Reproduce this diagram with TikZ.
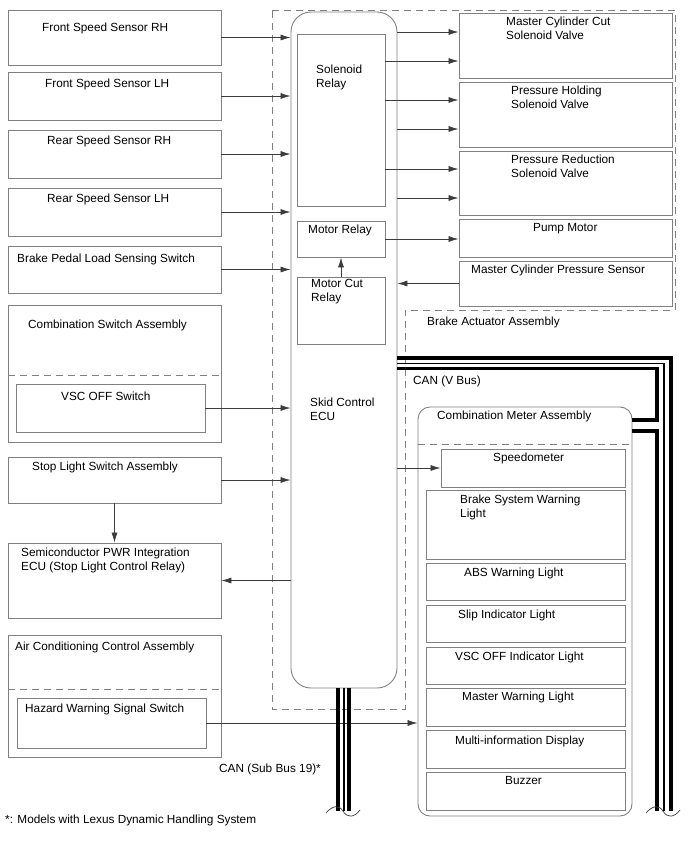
\documentclass[tikz,border=0pt]{standalone}
\usepackage{fontspec}
\setmainfont{Liberation Sans}
\usetikzlibrary{arrows.meta,positioning,fit,calc}
\definecolor{boxLine}{RGB}{128,128,128}
\definecolor{wireLine}{RGB}{60,60,60}
\tikzset{
    every node/.append style={align=left},
    box/.style={rectangle,draw=boxLine,line width=0.9pt,inner sep=0pt},
    txt/.style={font=\fontsize{11.8}{14}\selectfont,inner sep=0pt,anchor=north west},
    boundary/.style={draw=boxLine,line width=0.9pt,dash pattern=on 7pt off 5pt},
    divider/.style={draw=boxLine,line width=0.9pt,dash pattern=on 7pt off 5pt},
    arr/.style={-{Latex[length=10pt,width=6pt]},draw=wireLine,line width=0.7pt},
    busthick/.style={line width=3.4pt,black},
    busthin/.style={line width=1.1pt,black},
    brk/.style={draw=wireLine,line width=0.7pt}
}
\begin{document}
\begin{tikzpicture}[x=1pt,y=-1pt]
    \useasboundingbox (0,0) rectangle (688,852);

    \draw[boundary] (272,10) -- (675,10) -- (675,310) -- (405,310) -- (405,709) -- (272,709) -- cycle;
    \node[txt] (bact-lbl) at (427,317) {Brake Actuator Assembly};

    \node[box,fit={(8,10) (221,65)}] (fsrh) {};
    \node[txt] (fsrh-lbl) at (42,23) {Front Speed Sensor RH};
    \node[box,fit={(8,72) (221,120)}] (fslh) {};
    \node[txt] (fslh-lbl) at (45,79) {Front Speed Sensor LH};
    \node[box,fit={(8,130) (221,178)}] (rsrh) {};
    \node[txt] (rsrh-lbl) at (47,136) {Rear Speed Sensor RH};
    \node[box,fit={(8,188) (221,236)}] (rslh) {};
    \node[txt] (rslh-lbl) at (47,194) {Rear Speed Sensor LH};
    \node[box,fit={(8,246) (221,293)}] (bpls) {};
    \node[txt] (bpls-lbl) at (17,254) {Brake Pedal Load Sensing Switch};

    \node[box,fit={(8,305) (221,442)}] (combsw) {};
    \draw[divider] (combsw.west |- 0,375) -- (combsw.east |- 0,375);
    \node[txt] (combsw-lbl) at (28,320) {Combination Switch Assembly};
    \node[box,fit={(16,384) (205,432)}] (vscsw) {};
    \node[txt] (vscsw-lbl) at (61,392) {VSC OFF Switch};

    \node[box,fit={(8,457) (221,503)}] (stopsw) {};
    \node[txt] (stopsw-lbl) at (32,462) {Stop Light Switch Assembly};
    \node[box,fit={(8,543) (221,618)}] (semi) {};
    \node[txt] (semi-lbl) at (21,548) {Semiconductor PWR Integration\\ECU (Stop Light Control Relay)};

    \node[box,fit={(8,635) (221,757)}] (acca) {};
    \draw[divider] (acca.west |- 0,689) -- (acca.east |- 0,689);
    \node[txt] (acca-lbl) at (15,642) {Air Conditioning Control Assembly};
    \node[box,fit={(17,698) (206,748)}] (hazsw) {};
    \node[txt] (hazsw-lbl) at (25,704) {Hazard Warning Signal Switch};

    \node[box,rounded corners=20pt,fit={(291,12) (397,688)}] (ecu) {};
    \node[txt] (ecu-lbl) at (310,398) {Skid Control\\ECU};
    \node[box,fit={(297,34) (385,206)}] (solrly) {};
    \node[txt] (solrly-lbl) at (316,65) {Solenoid\\Relay};
    \node[box,fit={(297,221) (385,257)}] (mrly) {};
    \node[txt] (mrly-lbl) at (308,225) {Motor Relay};
    \node[box,fit={(297,277) (385,344)}] (mcut) {};
    \node[txt] (mcut-lbl) at (311,279) {Motor Cut\\Relay};

    \node[box,fit={(459,13) (672,78)}] (mccv) {};
    \node[txt] (mccv-lbl) at (506,17) {Master Cylinder Cut\\Solenoid Valve};
    \node[box,fit={(459,82) (672,147)}] (phsv) {};
    \node[txt] (phsv-lbl) at (511,86) {Pressure Holding\\Solenoid Valve};
    \node[box,fit={(459,151) (672,215)}] (prsv) {};
    \node[txt] (prsv-lbl) at (511,155) {Pressure Reduction\\Solenoid Valve};
    \node[box,fit={(459,219) (672,257)}] (pump) {};
    \node[txt] (pump-lbl) at (533,223) {Pump Motor};
    \node[box,fit={(459,261) (672,306)}] (mcps) {};
    \node[txt] (mcps-lbl) at (471,265) {Master Cylinder Pressure Sensor};

    \node[box,rounded corners=12pt,fit={(418,407) (632,816)}] (meter) {};
    \draw[divider] (meter.west |- 0,444) -- (meter.east |- 0,444);
    \node[txt] (meter-lbl) at (437,411) {Combination Meter Assembly};
    \node[box,fit={(441,449) (625,487)}] (speedo) {};
    \node[txt] (speedo-lbl) at (493,453) {Speedometer};
    \node[box,fit={(426,490) (625,559)}] (bswl) {};
    \node[txt] (bswl-lbl) at (460,495) {Brake System Warning\\Light};
    \node[box,fit={(426,563) (625,600)}] (absl) {};
    \node[txt] (absl-lbl) at (464,568) {ABS Warning Light};
    \node[box,fit={(426,605) (625,642)}] (slip) {};
    \node[txt] (slip-lbl) at (458,610) {Slip Indicator Light};
    \node[box,fit={(426,647) (625,684)}] (vscind) {};
    \node[txt] (vscind-lbl) at (455,652) {VSC OFF Indicator Light};
    \node[box,fit={(426,688) (625,726)}] (mwl) {};
    \node[txt] (mwl-lbl) at (462,692) {Master Warning Light};
    \node[box,fit={(426,730) (625,768)}] (mid) {};
    \node[txt] (mid-lbl) at (455,736) {Multi-information Display};
    \node[box,fit={(426,772) (625,810)}] (buzz) {};
    \node[txt] (buzz-lbl) at (505,776) {Buzzer};

    \node[txt] (vbus-lbl) at (413,376) {CAN (V Bus)};
    \node[txt] (sbus-lbl) at (219,764) {CAN (Sub Bus 19)*};
    \node[txt] (note-lbl) at (5,815) {*: Models with Lexus Dynamic Handling System};

    \draw[arr] (fsrh.east) -- (fsrh.east -| ecu.west);
    \draw[arr] (fslh.east) -- (fslh.east -| ecu.west);
    \draw[arr] (rsrh.east) -- (rsrh.east -| ecu.west);
    \draw[arr] (rslh.east) -- (rslh.east -| ecu.west);
    \draw[arr] (bpls.east) -- (bpls.east -| ecu.west);
    \draw[arr] (vscsw.east) -- (vscsw.east -| ecu.west);
    \draw[arr] (stopsw.east) -- (stopsw.east -| ecu.west);
    \draw[arr] (stopsw.south) -- (semi.north);
    \draw[arr] (semi.east -| ecu.west) -- (semi.east);
    \draw[arr] (hazsw.east) -- (hazsw.east -| meter.west);

    \draw[arr] (ecu.east |- 0,32) -- (mccv.west |- 0,32);
    \draw[arr] (solrly.east |- 0,61) -- (mccv.west |- 0,61);
    \draw[arr] (solrly.east |- 0,100) -- (phsv.west |- 0,100);
    \draw[arr] (ecu.east |- 0,129) -- (phsv.west |- 0,129);
    \draw[arr] (solrly.east |- 0,169) -- (prsv.west |- 0,169);
    \draw[arr] (ecu.east |- 0,198) -- (prsv.west |- 0,198);
    \draw[arr] (mrly.east) -- (mrly.east -| pump.west);
    \draw[arr] (mcut.north) -- (mrly.south);
    \draw[arr] (mcps.west) -- (mcps.west -| ecu.east);
    \draw[arr] (speedo.west -| ecu.east) -- (speedo.west);

    \coordinate (vbus-a) at (671,811);
    \coordinate (vbus-b) at (664,811);
    \coordinate (vbus-c) at (657,811);
    \coordinate (sbus-a) at (338,811);
    \coordinate (sbus-b) at (344,811);
    \coordinate (sbus-c) at (349,811);

    \draw[busthick] (ecu.east |- 0,358) -| (vbus-a);
    \draw[busthin] (ecu.east |- 0,363.5) -| (vbus-b);
    \draw[busthick] (ecu.east |- 0,368.5) -- (657,368.5) -- (657,420) -- (meter.east |- 0,420);
    \draw[busthick] (meter.east |- 0,431) -| (vbus-c);

    \draw[busthick] (ecu.south -| sbus-a) -- (sbus-a);
    \draw[busthin] (ecu.south -| sbus-b) -- (sbus-b);
    \draw[busthick] (ecu.south -| sbus-c) -- (sbus-c);

    \draw[brk] (326,813) .. controls (333,805) and (339,805) .. (343,811) .. controls (347,818) and (354,818) .. (360,810);
    \draw[brk] (646,813) .. controls (653,805) and (659,805) .. (663,811) .. controls (667,818) and (674,818) .. (680,810);
\end{tikzpicture}
\end{document}
